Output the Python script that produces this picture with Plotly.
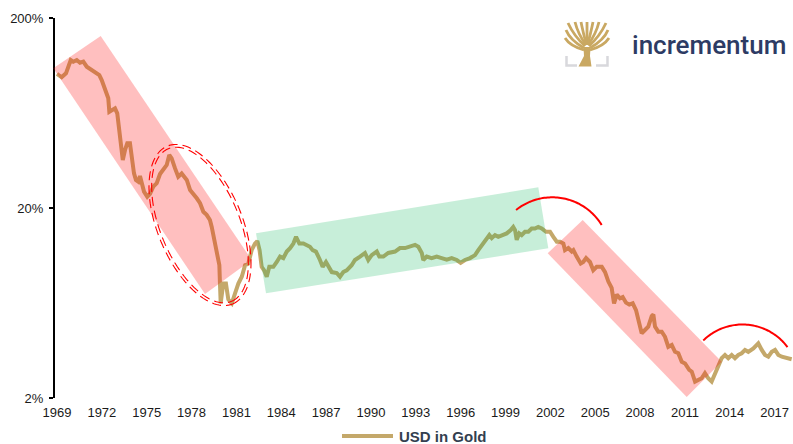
import math
import plotly.graph_objects as go

# ---------------- data ----------------
years = [
    1969.00, 1969.31, 1969.60, 1969.76, 1969.92, 1970.09, 1970.32, 1970.54, 1970.76, 1970.99,
    1971.32, 1971.54, 1971.83, 1971.99, 1972.14, 1972.32, 1972.43, 1972.50, 1972.66, 1972.88,
    1973.03, 1973.21, 1973.40, 1973.55, 1973.70, 1973.88, 1974.00, 1974.15, 1974.28, 1974.44,
    1974.55, 1974.67, 1974.82, 1975.04, 1975.22, 1975.44, 1975.67, 1975.89, 1976.11, 1976.34,
    1976.51, 1976.67, 1976.89, 1977.11, 1977.34, 1977.68, 1977.90, 1978.12, 1978.35, 1978.57,
    1978.79, 1979.01, 1979.23, 1979.35, 1979.50, 1979.68, 1979.86, 1979.90, 1979.95, 1980.12,
    1980.30, 1980.46, 1980.69, 1980.91, 1981.13, 1981.36, 1981.58, 1981.80, 1982.02, 1982.24,
    1982.40, 1982.55, 1982.69, 1982.85, 1983.03, 1983.20, 1983.47, 1983.70, 1983.92, 1984.14,
    1984.37, 1984.59, 1984.81, 1984.99, 1985.21, 1985.48, 1985.70, 1985.92, 1986.10, 1986.32,
    1986.59, 1986.77, 1986.99, 1987.15, 1987.38, 1987.71, 1987.93, 1988.15, 1988.38, 1988.71,
    1988.93, 1989.27, 1989.60, 1989.82, 1990.05, 1990.39, 1990.56, 1990.83, 1991.16, 1991.61,
    1991.94, 1992.28, 1992.61, 1992.95, 1993.17, 1993.40, 1993.50, 1993.73, 1994.06, 1994.40,
    1994.73, 1995.07, 1995.40, 1995.74, 1996.00, 1996.29, 1996.63, 1996.96, 1997.18, 1997.52,
    1997.74, 1997.92, 1998.08, 1998.30, 1998.52, 1998.75, 1999.08, 1999.35, 1999.52, 1999.64,
    1999.75, 1999.92, 2000.08, 2000.30, 2000.53, 2000.75, 2000.97, 2001.19, 2001.42, 2001.71,
    2001.98, 2002.20, 2002.43, 2002.65, 2002.87, 2002.98, 2003.20, 2003.43, 2003.54, 2003.76,
    2004.03, 2004.20, 2004.39, 2004.65, 2004.87, 2005.10, 2005.44, 2005.66, 2005.88, 2006.10,
    2006.26, 2006.44, 2006.66, 2006.84, 2007.06, 2007.28, 2007.51, 2007.73, 2007.88, 2008.11,
    2008.33, 2008.55, 2008.78, 2008.89, 2009.00, 2009.22, 2009.45, 2009.67, 2009.89, 2010.12,
    2010.34, 2010.56, 2010.79, 2011.01, 2011.29, 2011.46, 2011.68, 2011.90, 2012.12, 2012.34,
    2012.56, 2012.79, 2013.01, 2013.23, 2013.46, 2013.68, 2013.90, 2014.13, 2014.35, 2014.57,
    2014.80, 2015.02, 2015.24, 2015.58, 2015.91, 2016.14, 2016.36, 2016.58, 2016.81, 2017.03,
    2017.25, 2017.48, 2017.81, 2018.14,
]
usd_in_gold_pct = [
    101.5, 97.5, 102.3, 110.8, 120.2, 117.8, 120.2, 116.3, 117.8, 110.8,
    106.5, 102.3, 100.2, 94.3, 87.0, 80.3, 75.6, 64.2, 65.6, 66.9,
    63.0, 47.5, 35.8, 40.4, 43.8, 43.8, 35.8, 30.4, 28.1, 27.5,
    29.5, 27.5, 24.4, 22.9, 23.7, 25.9, 27.0, 30.2, 31.7, 33.7,
    38.0, 36.5, 32.4, 29.2, 30.4, 28.1, 24.9, 23.9, 22.5, 21.2,
    19.1, 18.4, 17.3, 15.9, 13.9, 11.6, 10.0, 8.0, 6.3, 8.0,
    8.0, 6.6, 6.3, 7.1, 8.0, 8.7, 10.0, 10.2, 12.0, 13.0,
    13.4, 12.0, 9.8, 9.4, 8.7, 9.8, 9.8, 10.4, 11.1, 10.9,
    11.8, 12.3, 13.0, 14.1, 13.0, 13.0, 12.8, 12.5, 12.0, 11.8,
    10.65, 9.8, 10.4, 9.8, 9.2, 9.1, 8.7, 9.2, 9.4, 10.0,
    10.65, 11.1, 11.6, 10.65, 11.3, 11.8, 11.1, 11.1, 11.6, 11.8,
    12.3, 12.3, 12.5, 12.8, 12.5, 11.6, 10.65, 11.1, 10.9, 11.1,
    10.9, 10.7, 10.9, 10.65, 10.3, 10.65, 10.9, 11.3, 12.0, 13.0,
    13.6, 14.4, 13.9, 14.4, 14.1, 14.4, 14.7, 15.3, 15.9, 15.3,
    13.6, 14.7, 14.4, 15.0, 15.0, 15.6, 15.6, 15.9, 15.6, 15.0,
    15.0, 14.1, 13.3, 13.3, 13.0, 12.0, 12.3, 11.8, 12.0, 11.1,
    10.2, 10.4, 10.9, 10.4, 9.4, 9.8, 9.8, 9.2, 8.2, 7.6,
    6.3, 7.0, 6.7, 6.8, 6.35, 6.2, 6.3, 5.8, 5.1, 4.38,
    4.56, 4.75, 5.4, 5.5, 4.75, 4.47, 4.47, 4.2, 3.72, 3.80,
    3.5, 3.44, 3.1, 3.04, 2.81, 2.75, 2.44, 2.49, 2.54, 2.70,
    2.54, 2.44, 2.70, 2.92, 3.24, 3.37, 3.24, 3.37, 3.24, 3.37,
    3.44, 3.58, 3.5, 3.65, 3.88, 3.58, 3.37, 3.30, 3.5, 3.58,
    3.37, 3.30, 3.24, 3.2,
]
x_tick_years = list(range(1969, 2018, 3))
y_tick_values = [2, 20, 200]
y_tick_labels = ["2%", "20%", "200%"]
series_name = "USD in Gold"
logo_text = "incrementum"

# ---------------- layout geometry ----------------
FIG_W, FIG_H = 793, 444
M_L, M_R, M_T, M_B = 55, 0, 18, 46
PW = FIG_W - M_L - M_R
PH = FIG_H - M_T - M_B
PX_PER_YEAR = 14.95
X_RANGE = [1969 - (57 - M_L) / PX_PER_YEAR, 1969 + (FIG_W - M_R - 57) / PX_PER_YEAR]

GOLD = "#C4A86A"
RED = "#FF0000"


def to_paper(px, py):
    return (px - M_L) / PW, (FIG_H - M_B - py) / PH


def svg_path(pts, closed=False):
    parts = []
    for i, (px, py) in enumerate(pts):
        u, v = to_paper(px, py)
        parts.append(("M" if i == 0 else "L") + f"{u:.5f},{v:.5f}")
    s = " ".join(parts)
    return s + " Z" if closed else s


def ellipse_pts(cx, cy, a, b, tilt_deg, n=120):
    t = math.radians(tilt_deg)
    ux, uy = math.sin(t), math.cos(t)      # major axis direction
    nx, ny = math.cos(t), -math.sin(t)     # minor axis direction
    pts = []
    for i in range(n + 1):
        s = 2 * math.pi * i / n
        pts.append((cx + a * math.cos(s) * ux + b * math.sin(s) * nx,
                    cy + a * math.cos(s) * uy + b * math.sin(s) * ny))
    return pts


def arc_pts(cx, cy, r, a0, a1, n=60):
    pts = []
    for i in range(n + 1):
        a = math.radians(a0 + (a1 - a0) * i / n)
        pts.append((cx + r * math.cos(a), cy + r * math.sin(a)))
    return pts


def quad(p0, pc, p1):
    u0, v0 = to_paper(*p0)
    uc, vc = to_paper(*pc)
    u1, v1 = to_paper(*p1)
    return f"M{u0:.5f},{v0:.5f} Q{uc:.5f},{vc:.5f} {u1:.5f},{v1:.5f}"


shapes = []
# translucent trend bands (drawn above the line, tinting it)
shapes.append(dict(type="path", xref="paper", yref="paper", layer="above",
                   path=svg_path([(53.3, 68.3), (100.7, 36), (251.7, 260), (205, 294)], True),
                   fillcolor="rgba(255,0,0,0.25)", line=dict(width=0)))
shapes.append(dict(type="path", xref="paper", yref="paper", layer="above",
                   path=svg_path([(256, 233.3), (538.3, 187.3), (548.3, 248.3), (266, 293.3)], True),
                   fillcolor="rgba(0,176,80,0.22)", line=dict(width=0)))
shapes.append(dict(type="path", xref="paper", yref="paper", layer="above",
                   path=svg_path([(547.7, 253.3), (582.7, 220), (721.7, 361.7), (686.7, 397)], True),
                   fillcolor="rgba(255,0,0,0.25)", line=dict(width=0)))
# double dashed ellipse
for da in (1.4, -1.4):
    shapes.append(dict(type="path", xref="paper", yref="paper", layer="above",
                       path=svg_path(ellipse_pts(200, 225, 84 + da, 41 + da, 22.5)),
                       line=dict(color=RED, width=1.1, dash="9px,5px")))
# red arcs
shapes.append(dict(type="path", xref="paper", yref="paper", layer="above",
                   path=svg_path(arc_pts(552.25, 255.2, 57.9, -128.7, -31.4)),
                   line=dict(color=RED, width=2)))
shapes.append(dict(type="path", xref="paper", yref="paper", layer="above",
                   path=svg_path(arc_pts(742.5, 380.6, 56.1, -134.35, -36.7)),
                   line=dict(color=RED, width=2)))

# logo: tree icon
LOGO_GOLD = "#C9A862"
LOGO_GRAY = "#D8D8DC"
shapes.append(dict(type="path", xref="paper", yref="paper", layer="above",
                   path=svg_path([(578.5, 66.5), (591.5, 66.5), (590, 56), (590.5, 47),
                                  (583.5, 47), (584, 56)], True),
                   fillcolor=LOGO_GOLD, line=dict(width=0)))
branches = [
    ((584, 50), (570, 46), (565, 38)),
    ((584, 48), (570, 40), (566, 30)),
    ((585, 46), (574, 36), (568, 23)),
    ((586, 45), (578, 34), (575, 22)),
    ((586.5, 45), (583, 32), (581, 22)),
    ((587, 45), (587, 32), (587, 22)),
    ((587.5, 45), (591, 32), (593, 22)),
    ((588, 45), (596, 34), (599, 22)),
    ((589, 46), (600, 36), (606, 23)),
    ((590, 48), (604, 40), (608, 30)),
    ((590, 50), (604, 46), (609, 38)),
]
for p0, pc, p1 in branches:
    shapes.append(dict(type="path", xref="paper", yref="paper", layer="above",
                       path=quad(p0, pc, p1), line=dict(color=LOGO_GOLD, width=2.8)))
shapes.append(dict(type="path", xref="paper", yref="paper", layer="above",
                   path=svg_path([(566.5, 56), (566.5, 65.5), (577, 65.5)]),
                   line=dict(color=LOGO_GRAY, width=2.5)))
shapes.append(dict(type="path", xref="paper", yref="paper", layer="above",
                   path=svg_path([(596, 65.5), (607.5, 65.5), (607.5, 56)]),
                   line=dict(color=LOGO_GRAY, width=2.5)))

# custom legend (line sample + bold label) below the axis
shapes.append(dict(type="path", xref="paper", yref="paper", layer="above",
                   path=svg_path([(342, 436), (393, 436)]),
                   line=dict(color=GOLD, width=4)))

lx, ly = to_paper(708.5, 45)
gx, gy = to_paper(397, 436)
annotations = [
    dict(text=logo_text, xref="paper", yref="paper", x=lx, y=ly,
         xanchor="center", yanchor="middle", showarrow=False,
         font=dict(family="Roboto, Arial, sans-serif", size=26,
                   color="#2D3B64", weight=500)),
    dict(text=series_name, xref="paper", yref="paper", x=gx, y=gy,
         xanchor="left", yanchor="middle", showarrow=False,
         font=dict(family="Liberation Sans, Arial, sans-serif", size=15,
                   color="#333F50", weight="bold")),
]

fig = go.Figure()
fig.add_trace(go.Scatter(x=years, y=usd_in_gold_pct, mode="lines", name=series_name,
                         line=dict(color=GOLD, width=4), showlegend=False))

fig.update_layout(
    width=FIG_W, height=FIG_H,
    margin=dict(l=M_L, r=M_R, t=M_T, b=M_B),
    paper_bgcolor="white", plot_bgcolor="white",
    font=dict(family="Liberation Sans, Arial, sans-serif", size=13, color="#1A1A1A"),
    showlegend=False,
    xaxis=dict(range=X_RANGE, tickmode="array", tickvals=x_tick_years,
               ticktext=[str(y) for y in x_tick_years],
               showgrid=False, zeroline=False, showline=False,
               ticks="", ticklabelstandoff=5,
               tickfont=dict(size=13, color="#1A1A1A")),
    yaxis=dict(type="log", range=[math.log10(2), math.log10(200)],
               tickmode="array", tickvals=y_tick_values, ticktext=y_tick_labels,
               showgrid=False, zeroline=False, showline=True, linecolor="black",
               linewidth=2, ticks="outside", ticklen=4, tickwidth=2, tickcolor="black",
               ticklabelstandoff=3,
               tickfont=dict(size=13, color="#1A1A1A")),
    shapes=shapes,
    annotations=annotations,
)

fig.write_html("out.html", config={"displayModeBar": False},
               post_script="document.body.style.margin='0';")
